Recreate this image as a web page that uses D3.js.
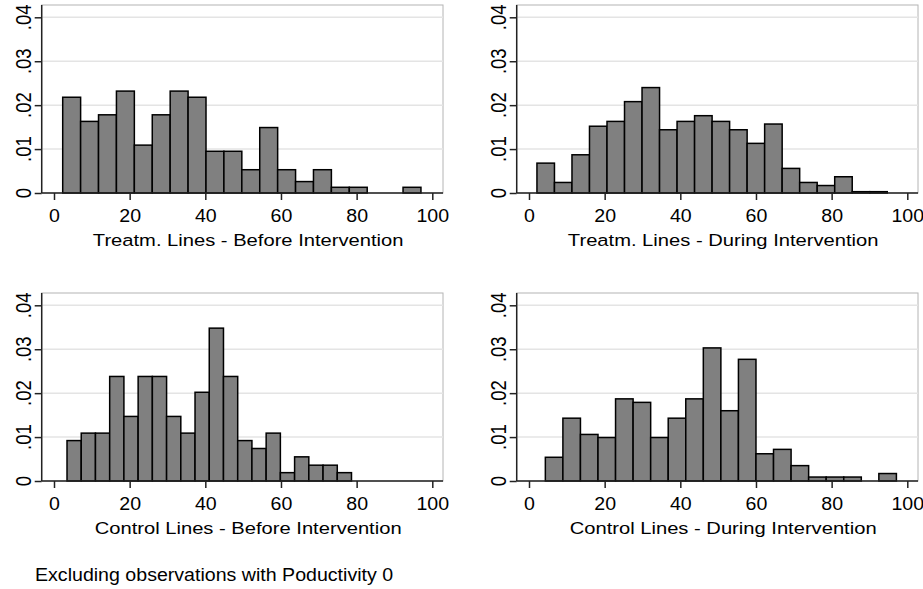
<!DOCTYPE html>
<html lang="en">
<head>
<meta charset="UTF-8">
<title>Productivity histograms</title>
<script src="https://cdn.jsdelivr.net/npm/d3@7"></script>
<style>
  body { margin: 0; background: #fff; }
  text { font-family: Arial, "Liberation Sans", sans-serif; fill: #000; }
</style>
</head>
<body>
<script>
// panel titles
var titles = ["Treatm. Lines - Before Intervention", "Treatm. Lines - During Intervention",
              "Control Lines - Before Intervention", "Control Lines - During Intervention"];
// first bin edge and bin width for each panel
var binStart = [2.3, 2.1, 3.44, 4.32];
var binWidth = [4.735, 4.63, 3.76, 4.64];
// densities, 20 bins per panel
var treatBefore = [.0218, .0163, .0178, .0232, .0109, .0178, .0232, .0218, .0095, .0095,
                   .0053, .0149, .0053, .0026, .0053, .0013, .0013, 0, 0, .0013];
var treatDuring = [.0068, .0024, .0087, .0152, .0163, .0208, .0240, .0144, .0163, .0176,
                   .0163, .0144, .0113, .0157, .0056, .0024, .0017, .0037, .0003, .0003];
var ctrlBefore = [.0092, .0109, .0109, .0238, .0147, .0238, .0238, .0147, .0109, .0202,
                  .0348, .0238, .0092, .0074, .0109, .0019, .0055, .0036, .0036, .0019];
var ctrlDuring = [.0054, .0143, .0106, .0099, .0187, .0179, .0099, .0143, .0187, .0303,
                  .0160, .0277, .0062, .0072, .0035, .0009, .0009, .0009, 0, .0017];
var xTicks = [0, 20, 40, 60, 80, 100];
var yTicks = [0, .01, .02, .03, .04];
var yTickLabels = ["0", ".01", ".02", ".03", ".04"];
var note = "Excluding observations with Poductivity 0";

var series = [treatBefore, treatDuring, ctrlBefore, ctrlDuring];

var svg = d3.select("body").append("svg").attr("width", 923).attr("height", 589);

// offsets of the four panels
var panels = [{ dx: 0, dy: 0 }, { dx: 475, dy: 0 }, { dx: 0, dy: 288 }, { dx: 475, dy: 288 }];

panels.forEach(function (p, k) {
    var g = svg.append("g").attr("transform", "translate(" + p.dx + "," + p.dy + ")");
    var left = 41.7, right = 443, top = 5, base = 193;
    var x = d3.scaleLinear().domain([0, 100]).range([54, 432.3]);
    var y = d3.scaleLinear().domain([0, .04]).range([base, 17.3]);

    // plot region border (gray top/right)
    g.append("rect").attr("x", left).attr("y", top).attr("width", right - left).attr("height", base - top)
        .attr("fill", "none").attr("stroke", "#b4b4b4").attr("stroke-width", 1);

    // gridlines
    g.selectAll(".grid").data(yTicks.slice(1)).enter().append("line")
        .attr("x1", left).attr("x2", right)
        .attr("y1", function (d) { return y(d); }).attr("y2", function (d) { return y(d); })
        .attr("stroke", "#e4e4e4").attr("stroke-width", 1.5);

    // bars
    var bins = series[k].map(function (d, i) { return { i: i, v: d }; })
        .filter(function (d) { return d.v > 0; });
    g.selectAll(".bar").data(bins).enter().append("rect")
        .attr("x", function (d) { return x(binStart[k] + d.i * binWidth[k]); })
        .attr("width", function (d) { return x(binStart[k] + (d.i + 1) * binWidth[k]) - x(binStart[k] + d.i * binWidth[k]); })
        .attr("y", function (d) { return y(d.v); })
        .attr("height", function (d) { return base - y(d.v); })
        .attr("fill", "#808080").attr("stroke", "#000").attr("stroke-width", 1.5);

    // y axis (labels drawn separately, rotated)
    var yAxis = d3.axisLeft(y).tickValues(yTicks).tickSize(7).tickFormat("");
    var ya = g.append("g").attr("transform", "translate(" + left + ",0)").call(yAxis);
    ya.select(".domain").attr("d", "M0," + top + "V" + base).attr("stroke", "#222").attr("stroke-width", 1.5);
    ya.selectAll(".tick line").attr("stroke", "#222").attr("stroke-width", 1.5);
    g.selectAll(".ylab").data(yTicks).enter().append("text")
        .attr("transform", function (d) { return "translate(31," + y(d) + ") scale(1.2,1) rotate(-90)"; })
        .attr("text-anchor", "middle").attr("font-size", 18.5)
        .text(function (d, i) { return yTickLabels[i]; });

    // x axis
    var xAxis = d3.axisBottom(x).tickValues(xTicks).tickSize(7).tickFormat(d3.format("d"));
    var xa = g.append("g").attr("transform", "translate(0," + base + ")").call(xAxis);
    xa.select(".domain").attr("d", "M" + left + ",0H" + right).attr("stroke", "#222").attr("stroke-width", 1.5);
    xa.selectAll(".tick line").attr("stroke", "#222").attr("stroke-width", 1.5);
    xa.selectAll(".tick text")
        .attr("y", 0).attr("dy", 0)
        .attr("transform", "translate(0,29) scale(1.12,1)")
        .attr("font-size", 17.5).attr("fill", "#000");

    // axis title
    g.append("text").attr("transform", "translate(" + (x(50) + 5) + ",245.7) scale(1.2,1)")
        .attr("text-anchor", "middle").attr("font-size", 16.8).text(titles[k]);
});

svg.append("text").attr("transform", "translate(35,581) scale(1.12,1)")
    .attr("font-size", 17.5).text(note);
</script>
</body>
</html>
